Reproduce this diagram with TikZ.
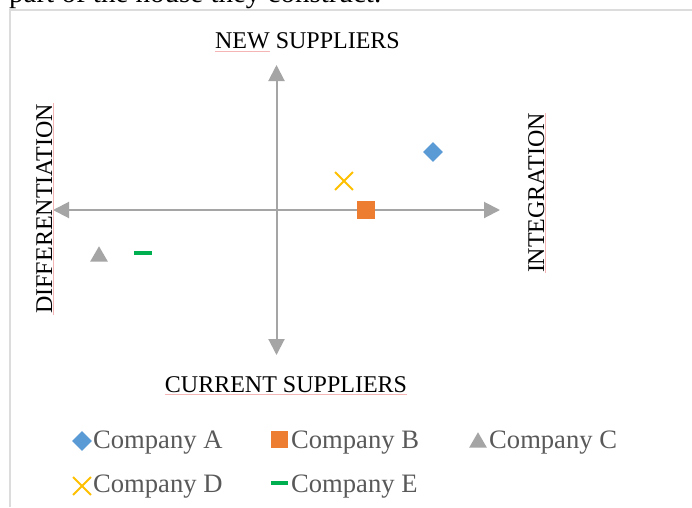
\documentclass[tikz,border=0pt]{standalone}
\usepackage{fontspec}
\setmainfont{Liberation Serif}
\usetikzlibrary{arrows.meta,shapes.geometric,shapes.misc}
\definecolor{axisgrey}{HTML}{A5A5A5}
\definecolor{mblue}{HTML}{5B9BD5}
\definecolor{morange}{HTML}{ED7D31}
\definecolor{myellow}{HTML}{FFC000}
\definecolor{mgreen}{HTML}{00B050}
\definecolor{legtext}{HTML}{595959}
\definecolor{framegrey}{HTML}{DCDCDC}
\definecolor{spellpink}{HTML}{F5B5B5}
\begin{document}
\begin{tikzpicture}[x=1pt,y=-1pt,
  axis/.style={draw=axisgrey,line width=2pt,-{Triangle[length=16pt,width=16pt]}},
  axlabel/.style={font=\fontsize{24}{28}\selectfont,text=black,inner sep=0pt},
  legtxt/.style={font=\fontsize{26.6}{30}\selectfont,text=legtext,inner sep=0pt,anchor=base west},
  mdiamond/.style={diamond,fill=mblue,inner sep=0pt,minimum size=#1},
  msquare/.style={rectangle,fill=morange,inner sep=0pt,minimum size=#1},
  mtri/.style={regular polygon,regular polygon sides=3,fill=axisgrey,inner sep=0pt,minimum size=#1},
  mcross/.style={cross out,draw=myellow,line width=1.8pt,inner sep=0pt,minimum size=#1},
  mdash/.style={rectangle,fill=mgreen,inner sep=0pt,minimum width=#1,minimum height=4.5pt},
  spell/.style={draw=spellpink,line width=0.8pt}]
\useasboundingbox (0,0) rectangle (692,507);
\fill[white] (0,0) rectangle (692,507);
% cut-off text above the frame
\begin{scope}
\clip (0,0) rectangle (692,9);
\node[anchor=base west,inner sep=0pt,font=\fontsize{29}{33}\selectfont] (top) at (9,2) {part of the house they construct.};
\end{scope}
% frame
\draw[framegrey,line width=1.5pt] (10,507) -- (10,10) -- (692,10);
% axes
\coordinate (O) at (276.5,210);
\coordinate (R) at (500,210);
\coordinate (L) at (53,210);
\coordinate (T) at (276.5,65);
\coordinate (B) at (276.5,355);
\draw[axis] (O) -- (R);
\draw[axis] (O) -- (L);
\draw[axis] (O) -- (T);
\draw[axis] (O) -- (B);
% axis labels
\node[axlabel,anchor=base] (new) at (307.5,48.5) {NEW SUPPLIERS};
\node[axlabel,anchor=base] (cur) at (286,392) {CURRENT SUPPLIERS};
\node[axlabel,anchor=base,rotate=90] (dif) at (52,209) {DIFFERENTIATION};
\node[axlabel,anchor=base,rotate=90] (int) at (544,193) {INTEGRATION};
% spell-check underlines
\draw[spell] (215,51.5) -- (270,51.5);
\draw[spell] (165,394.5) -- (407,394.5);
\draw[spell] (53.5,103) -- (53.5,315);
\draw[spell] (545.5,113) -- (545.5,273);
% data points
\node[mdiamond=20pt] (A) at (433,152) {};
\node[msquare=18pt] (Bpt) at (366,210) {};
\node[mtri=20.5pt] (C) at (99,256.5) {};
\node[mcross=16pt] (D) at (344,181) {};
\node[mdash=18pt] (E) at (143,253) {};
% legend
\node[mdiamond=20pt] (lA) at (82,441) {};
\node[legtxt] (tA) at (93,448) {Company A};
\node[msquare=17pt] (lB) at (279.5,439.5) {};
\node[legtxt] (tB) at (291,448) {Company B};
\node[mtri=20.5pt] (lC) at (478,442.5) {};
\node[legtxt] (tC) at (489,448) {Company C};
\node[mcross=16pt] (lD) at (82,486) {};
\node[legtxt] (tD) at (93,492) {Company D};
\node[mdash=17pt] (lE) at (279.5,483) {};
\node[legtxt] (tE) at (291,492) {Company E};
\end{tikzpicture}
\end{document}
